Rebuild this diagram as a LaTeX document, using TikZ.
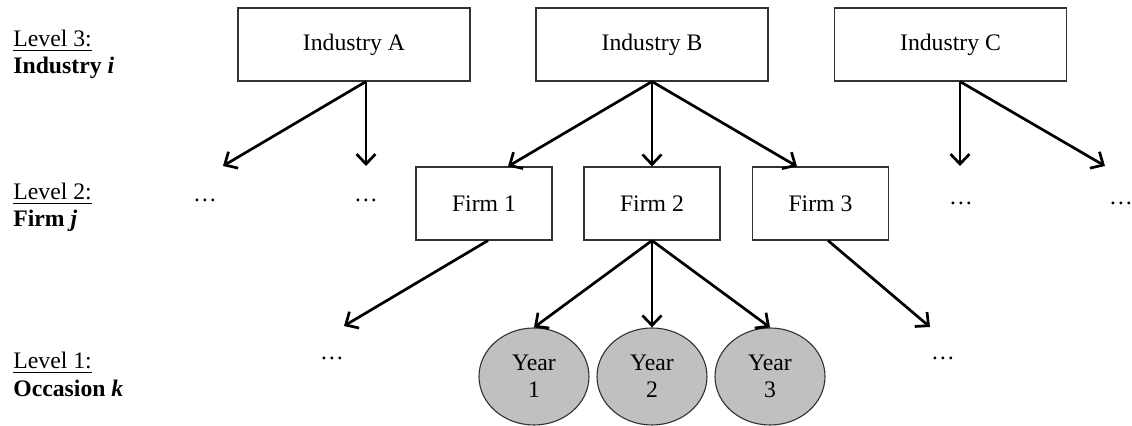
\documentclass[tikz,border=0pt]{standalone}
\usepackage{fontspec}
\setmainfont{Liberation Serif}
\usetikzlibrary{arrows.meta,shapes.geometric}
\definecolor{yeargray}{RGB}{192,192,192}
\definecolor{edgegray}{RGB}{50,50,50}

\begin{document}
\begin{tikzpicture}[x=0.5pt,y=-0.5pt,
  font=\fontsize{11.85}{13.5}\selectfont,
  box/.style={draw=edgegray, line width=0.55pt, minimum height=36.5pt, inner sep=0pt},
  indbox/.style={box, minimum width=116pt},
  firmbox/.style={box, minimum width=68pt},
  yearnode/.style={ellipse, draw=edgegray, line width=0.55pt, fill=yeargray,
    minimum width=55pt, minimum height=48.5pt, inner sep=0pt, align=center},
  link/.style={line width=1.35pt, -{Straight Barb[length=5pt,width=9.5pt,line width=1.35pt]}},
  more/.style={inner sep=0pt, anchor=base},
  lvl/.style={anchor=base west, inner sep=0pt},
]
\useasboundingbox (0,0) rectangle (1132,426);

% level labels
\node[lvl] (l3a) at (13,47) {\underline{Level 3:}};
\node[lvl] (l3b) at (13,74) {\textbf{Industry \textit{i}}};
\node[lvl] (l2a) at (13,200) {\underline{Level 2:}};
\node[lvl] (l2b) at (13,227) {\textbf{Firm \textit{j}}};
\node[lvl] (l1a) at (13,369) {\underline{Level 1:}};
\node[lvl] (l1b) at (13,397) {\textbf{Occasion \textit{k}}};

% industries
\node[indbox] (indA) at (354,44.5) {Industry A};
\node[indbox] (indB) at (652,44.5) {Industry B};
\node[indbox] (indC) at (950.5,44.5) {Industry C};

% firms
\node[firmbox] (f1) at (484,203.5) {Firm 1};
\node[firmbox] (f2) at (652,203.5) {Firm 2};
\node[firmbox] (f3) at (820.5,203.5) {Firm 3};

% occasions
\node[yearnode] (y1) at (534,376.5) {Year\\1};
\node[yearnode] (y2) at (652,376.5) {Year\\2};
\node[yearnode] (y3) at (770,376.5) {Year\\3};

% omitted units
\node[more] (dA1) at (205,202) {\dots};
\node[more] (dA2) at (366,202) {\dots};
\node[more] (dC1) at (961,205) {\dots};
\node[more] (dC2) at (1121,205) {\dots};
\node[more] (dF1) at (332,360) {\dots};
\node[more] (dF3) at (943,360) {\dots};

% free arrow ends above the omitted units
\coordinate (tA1) at (223,166);
\coordinate (tA2) at (366,166);
\coordinate (tC1) at (960,166);
\coordinate (tC2) at (1105,166);
\coordinate (tF1) at (344,326);
\coordinate (tF3) at (930,327);

% industry -> firm
\draw[link] (indA.south -| tA2) -- (tA1);
\draw[link] (indA.south -| tA2) -- (tA2);
\draw[link] (indB.south) -- ([xshift=12pt]f1.north);
\draw[link] (indB.south) -- (f2.north);
\draw[link] (indB.south) -- ([xshift=-11.75pt]f3.north);
\draw[link] (indC.south -| tC1) -- (tC1);
\draw[link] (indC.south -| tC1) -- (tC2);

% firm -> occasion
\draw[link] ([xshift=2pt]f1.south) -- (tF1);
\draw[link] (f2.south) -- (y1.north);
\draw[link] (f2.south) -- (y2.north);
\draw[link] (f2.south) -- (y3.north);
\draw[link] ([xshift=3.75pt]f3.south) -- (tF3);
\end{tikzpicture}
\end{document}
